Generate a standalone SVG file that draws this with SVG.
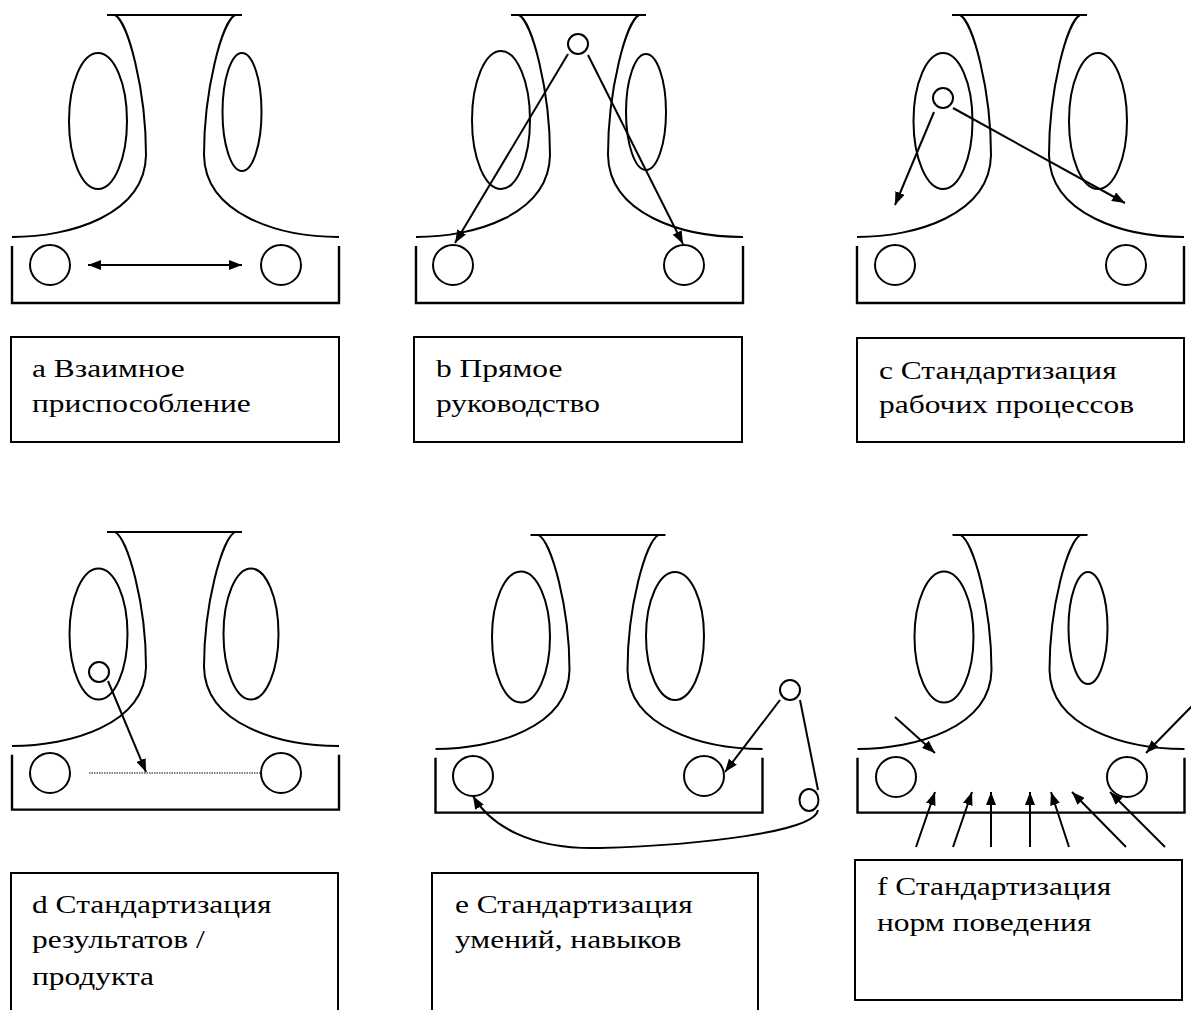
<svg xmlns="http://www.w3.org/2000/svg" xmlns:xlink="http://www.w3.org/1999/xlink" width="1191" height="1010" viewBox="0 0 1191 1010">
<style>
.ln{fill:none;stroke:#000;stroke-width:2}
.bx{fill:none;stroke:#000;stroke-width:2.4}
.lb{fill:#fff;stroke:#000;stroke-width:2}
.ar{fill:none;stroke:#000;stroke-width:2;marker-end:url(#ah)}
.tx{font-family:"Liberation Serif","Times New Roman",serif;font-size:26px;fill:#000}
</style>
<defs>
<marker id="ah" viewBox="0 0 13 10" refX="13" refY="5" markerWidth="13" markerHeight="10" markerUnits="userSpaceOnUse" orient="auto-start-reverse"><path d="M0,0 L13,5 L0,10 z" fill="#000"/></marker>
<g id="frame">
<path class="ln" d="M -68 0 H 67"/>
<path class="ln" d="M -60 0 C -47 7, -29 75, -29 140 C -30 200, -105 222, -163 222"/>
<path class="ln" d="M 60 0 C 47 7, 29 75, 29 140 C 30 200, 105 222, 164 222"/>
<path class="bx" d="M -163 231 V 288 H 164 V 231"/>
</g>
</defs>
<rect width="1191" height="1010" fill="#fff"/>

<g id="panel-a">
<use xlink:href="#frame" transform="translate(175,15)"/>
<ellipse class="ln" cx="98" cy="121" rx="29" ry="68"/>
<ellipse class="ln" cx="242" cy="112" rx="19.5" ry="59"/>
<circle class="ln" cx="50" cy="265" r="20"/>
<circle class="ln" cx="281" cy="265" r="20"/>
</g>
<g id="panel-b">
<use xlink:href="#frame" transform="translate(579,15)"/>
<ellipse class="ln" cx="501" cy="120" rx="29" ry="69"/>
<ellipse class="ln" cx="646" cy="112" rx="20" ry="58"/>
<circle class="ln" cx="453" cy="265" r="20"/>
<circle class="ln" cx="684" cy="265" r="20"/>
<circle class="ln" cx="578" cy="44" r="10"/>
</g>
<g id="panel-c">
<use xlink:href="#frame" transform="translate(1020,15)"/>
<ellipse class="ln" cx="943" cy="121" rx="29.5" ry="68"/>
<ellipse class="ln" cx="1098" cy="121" rx="29" ry="68"/>
<circle class="ln" cx="895" cy="265" r="20"/>
<circle class="ln" cx="1126" cy="265" r="20"/>
<circle class="ln" cx="943" cy="98" r="10"/>
</g>
<g id="panel-d">
<use xlink:href="#frame" transform="translate(175,532) scale(1,0.964)"/>
<ellipse class="ln" cx="98.5" cy="634" rx="29" ry="65.5"/>
<ellipse class="ln" cx="251" cy="634" rx="27.5" ry="65.5"/>
<circle class="ln" cx="50" cy="773" r="20"/>
<circle class="ln" cx="281" cy="773" r="20"/>
<circle class="ln" cx="99" cy="672" r="10"/>
</g>
<g id="panel-e">
<use xlink:href="#frame" transform="translate(598.5,535) scale(1,0.964)"/>
<ellipse class="ln" cx="521" cy="637" rx="29" ry="65.5"/>
<ellipse class="ln" cx="675" cy="636" rx="29" ry="64"/>
<circle class="ln" cx="473" cy="776" r="20"/>
<circle class="ln" cx="704" cy="776" r="20"/>
<circle class="ln" cx="790" cy="690" r="10"/>
<ellipse class="ln" cx="809" cy="800" rx="9.5" ry="11"/>
</g>
<g id="panel-f">
<use xlink:href="#frame" transform="translate(1020.5,535) scale(1,0.964)"/>
<ellipse class="ln" cx="944" cy="637" rx="29.5" ry="65.5"/>
<ellipse class="ln" cx="1088" cy="628" rx="19.5" ry="56"/>
<circle class="ln" cx="896" cy="777" r="20"/>
<circle class="ln" cx="1127" cy="777" r="20"/>
</g>

<g id="connectors">
<path class="ar" style="marker-start:url(#ah)" d="M 88 265 H 242"/>
<path class="ar" d="M 568 54 L 455 243"/>
<path class="ar" d="M 588 55 L 683 244"/>
<path class="ar" d="M 934 112 L 895 205"/>
<path class="ar" d="M 953 108 L 1125 203"/>
<path class="ar" d="M 108 681 L 146 772"/>
<path fill="none" stroke="#000" stroke-width="1" stroke-dasharray="1.5,1" d="M 89 773 H 262"/>
<path class="ar" d="M 780 700 L 725 772"/>
<path class="ln" d="M 800 700 L 818 790"/>
<path class="ar" d="M 818 810 C 815 832, 700 845, 600 848 C 530 850, 490 825, 473 796"/>
<path class="ar" d="M 895 717 L 935 753"/>
<path class="ar" d="M 1192 706 L 1146 753"/>
<path class="ar" d="M 916 847 L 935 792"/>
<path class="ar" d="M 953 847 L 972 792"/>
<path class="ar" d="M 991 847 L 991 792"/>
<path class="ar" d="M 1030 847 L 1030 792"/>
<path class="ar" d="M 1069 847 L 1051 792"/>
<path class="ar" d="M 1126 847 L 1072 792"/>
<path class="ar" d="M 1165 847 L 1110 792"/>
</g>

<g id="label-a">
<rect class="lb" x="11" y="337" width="328" height="105"/>
<text class="tx" transform="translate(32,377) scale(1.21,1)">a Взаимное</text>
<text class="tx" transform="translate(32,412) scale(1.21,1)">приспособление</text>
</g>
<g id="label-b">
<rect class="lb" x="414" y="337" width="328" height="105"/>
<text class="tx" transform="translate(436,377) scale(1.21,1)">b Прямое</text>
<text class="tx" transform="translate(436,412) scale(1.21,1)">руководство</text>
</g>
<g id="label-c">
<rect class="lb" x="857" y="338" width="327" height="104"/>
<text class="tx" transform="translate(879,379) scale(1.21,1)">c Стандартизация</text>
<text class="tx" transform="translate(879,413) scale(1.21,1)">рабочих процессов</text>
</g>
<g id="label-d">
<path class="lb" d="M 11 1011 V 873 H 338 V 1011"/>
<text class="tx" transform="translate(32,913) scale(1.21,1)">d Стандартизация</text>
<text class="tx" transform="translate(32,948) scale(1.21,1)">результатов /</text>
<text class="tx" transform="translate(32,985) scale(1.21,1)">продукта</text>
</g>
<g id="label-e">
<path class="lb" d="M 432 1011 V 873 H 758 V 1011"/>
<text class="tx" transform="translate(455,913) scale(1.21,1)">e Стандартизация</text>
<text class="tx" transform="translate(455,948) scale(1.21,1)">умений, навыков</text>
</g>
<g id="label-f">
<rect class="lb" x="855" y="860" width="327" height="140"/>
<text class="tx" transform="translate(877,895) scale(1.21,1)">f Стандартизация</text>
<text class="tx" transform="translate(877,931) scale(1.21,1)">норм поведения</text>
</g>
</svg>
